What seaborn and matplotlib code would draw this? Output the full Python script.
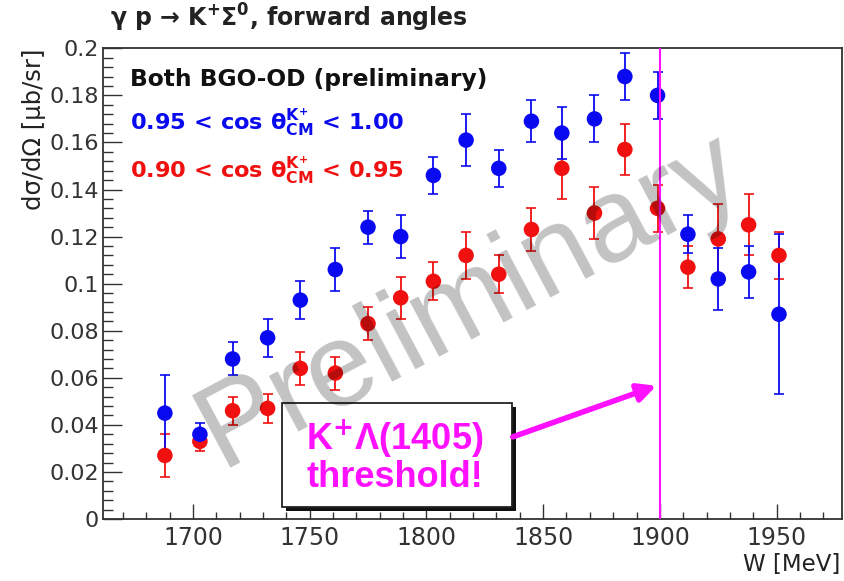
import numpy as np
import pandas as pd
import matplotlib
matplotlib.use("Agg")
import matplotlib.pyplot as plt
from matplotlib.patches import Rectangle
from matplotlib.ticker import FixedLocator, MultipleLocator
import seaborn as sns

# W bin centres [MeV]
w_mev = [1688, 1703, 1717, 1732, 1746, 1761, 1775, 1789, 1803, 1817,
         1831, 1845, 1858, 1872, 1885, 1899, 1912, 1925, 1938, 1951]

# 0.95 < cos theta_CM < 1.00  (dsigma/dOmega, mub/sr)
xsec_fwd = [0.045, 0.036, 0.068, 0.077, 0.093, 0.106, 0.124, 0.120, 0.146, 0.161,
            0.149, 0.169, 0.164, 0.170, 0.188, 0.180, 0.121, 0.102, 0.105, 0.087]
err_fwd = [0.016, 0.005, 0.007, 0.008, 0.008, 0.009, 0.007, 0.009, 0.008, 0.011,
           0.008, 0.009, 0.011, 0.010, 0.010, 0.010, 0.008, 0.013, 0.011, 0.034]

# 0.90 < cos theta_CM < 0.95
xsec_mid = [0.027, 0.033, 0.046, 0.047, 0.064, 0.062, 0.083, 0.094, 0.101, 0.112,
            0.104, 0.123, 0.149, 0.130, 0.157, 0.132, 0.107, 0.119, 0.125, 0.112]
err_mid = [0.009, 0.004, 0.006, 0.006, 0.007, 0.007, 0.007, 0.009, 0.008, 0.010,
           0.008, 0.009, 0.013, 0.011, 0.011, 0.010, 0.009, 0.015, 0.013, 0.010]

x_ticks = [1700, 1750, 1800, 1850, 1900, 1950]
x_tick_labels = ["1700", "1750", "1800", "1850", "1900", "1950"]
y_ticks = [0.0, 0.02, 0.04, 0.06, 0.08, 0.10, 0.12, 0.14, 0.16, 0.18, 0.20]
y_tick_labels = ["0", "0.02", "0.04", "0.06", "0.08", "0.1", "0.12",
                 "0.14", "0.16", "0.18", "0.2"]

threshold_w = 1900

BLUE = "#0a0af0"
RED = "#f01010"
MAGENTA = "#ff10ff"
INK = "#222222"

sns.set_theme(style="white")
plt.rcParams["font.family"] = ["DejaVu Sans"]
plt.rcParams["mathtext.fontset"] = "dejavusans"

df = pd.concat([
    pd.DataFrame({"W": w_mev, "xsec": xsec_mid, "err": err_mid, "bin": "mid"}),
    pd.DataFrame({"W": w_mev, "xsec": xsec_fwd, "err": err_fwd, "bin": "fwd"}),
], ignore_index=True)
palette = {"mid": RED, "fwd": BLUE}

W, H = 844, 581
fig = plt.figure(figsize=(W / 100, H / 100), dpi=100)
ax_l, ax_r, ax_t, ax_b = 103, 842, 48.3, 519
ax = fig.add_axes([ax_l / W, 1 - ax_b / H, (ax_r - ax_l) / W, (ax_b - ax_t) / H])

# error bars, then the markers on top (red bin first, blue above it)
for name in ["mid", "fwd"]:
    sub = df[df["bin"] == name]
    ax.errorbar(sub["W"], sub["xsec"], yerr=sub["err"], fmt="none",
                ecolor=palette[name], elinewidth=1.3, capsize=3.5,
                capthick=1.2, zorder=2)
    sns.scatterplot(data=sub, x="W", y="xsec", color=palette[name], s=125,
                    edgecolor="none", linewidth=0, legend=False, ax=ax,
                    zorder=3)

ax.set_xlim(1661.5, 1978)
ax.set_ylim(0, 0.2)
ax.xaxis.set_major_locator(FixedLocator(x_ticks))
ax.set_xticklabels(x_tick_labels)
ax.xaxis.set_minor_locator(MultipleLocator(10))
ax.yaxis.set_major_locator(FixedLocator(y_ticks))
ax.set_yticklabels(y_tick_labels)
ax.yaxis.set_minor_locator(MultipleLocator(0.004))
ax.tick_params(axis="both", which="both", direction="in", colors="#333333",
               width=1.0, bottom=True, left=True, top=False, right=False)
ax.tick_params(axis="x", which="major", length=11, labelsize=17, pad=5,
               labelcolor="#333333")
ax.tick_params(axis="x", which="minor", length=5)
ax.tick_params(axis="y", which="major", length=14, labelsize=16, pad=3,
               labelcolor="#333333")
ax.tick_params(axis="y", which="minor", length=7)
for sp in ax.spines.values():
    sp.set_color("#333333")
    sp.set_linewidth(1.3)
ax.set_xlabel("")
ax.set_ylabel("")

# axis titles
fig.text(840 / W, 1 - 564 / H, "W [MeV]", ha="right", va="center",
         fontsize=16.5, color=INK)
fig.text(34 / W, 1 - 48 / H, "dσ/dΩ [μb/sr]", rotation=90,
         ha="center", va="top", fontsize=17.5, color=INK)

# title
fig.text(110 / W, 1 - 27 / H,
         "γ p → K$^{\\mathbf{+}}$Σ$^{\\mathbf{0}}$, forward angles",
         ha="left", va="baseline", fontsize=17, fontweight="bold", color=INK)

# in-frame labels
fig.text(130 / W, 1 - 86 / H, "Both BGO-OD (preliminary)", ha="left",
         va="baseline", fontsize=16.8, fontweight="bold", color="#111111")
fig.text(130 / W, 1 - 129 / H,
         "0.95 < cos θ$^{\\mathbf{K^{+}}}_{\\mathbf{CM}}$ < 1.00",
         ha="left", va="baseline", fontsize=16.2, fontweight="bold", color=BLUE)
fig.text(130 / W, 1 - 177 / H,
         "0.90 < cos θ$^{\\mathbf{K^{+}}}_{\\mathbf{CM}}$ < 0.95",
         ha="left", va="baseline", fontsize=16.2, fontweight="bold", color=RED)

# threshold line
ax.axvline(threshold_w, color=MAGENTA, lw=1.5, zorder=5)

# annotation box with drop shadow
box_x0, box_x1, box_y0, box_y1 = 1738, 1836.5, 0.0052, 0.0492
ax.add_patch(Rectangle((box_x0 + 2.0, box_y0 - 0.0017), box_x1 - box_x0,
                       box_y1 - box_y0, facecolor="#111111", edgecolor="none",
                       zorder=6))
ax.add_patch(Rectangle((box_x0, box_y0), box_x1 - box_x0, box_y1 - box_y0,
                       facecolor="white", edgecolor=INK, lw=1.3, zorder=7))
ax.text(1786.5, 0.0265, "K$^{\\mathbf{+}}$Λ(1405)\nthreshold!", ha="center",
        va="center", fontsize=26, fontweight="bold", color=MAGENTA,
        family=["Liberation Sans", "DejaVu Sans"], linespacing=1.0, zorder=8)
ax.annotate("", xy=(threshold_w - 1.5, 0.0566), xytext=(box_x1 + 0.5, 0.0349),
            arrowprops=dict(arrowstyle="-|>,head_length=0.9,head_width=0.45",
                            color=MAGENTA, lw=4.0, shrinkA=0, shrinkB=0),
            zorder=8)

# watermark
ax.text(0.497, 0.463, "Preliminary", transform=ax.transAxes, rotation=28,
        rotation_mode="anchor", ha="center", va="center", fontsize=86,
        family=["Liberation Sans", "DejaVu Sans"],
        color="black", alpha=0.24, zorder=9)

fig.savefig("out.png", dpi=100)
